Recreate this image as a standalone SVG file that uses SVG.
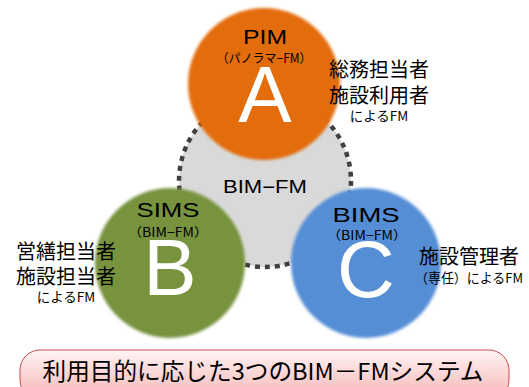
<svg xmlns="http://www.w3.org/2000/svg" width="529" height="387" viewBox="0 0 529 387">
<defs>
<filter id="soft" x="-10%" y="-10%" width="120%" height="120%"><feGaussianBlur stdDeviation="1.6"/></filter>
<linearGradient id="pink" x1="0" y1="0" x2="0" y2="1"><stop offset="0" stop-color="#fff4f4"/><stop offset="1" stop-color="#f6b4b4"/></linearGradient>
<style>
text{font-family:"Liberation Sans","Noto Sans CJK JP",sans-serif;fill:#000;text-anchor:middle}
.jp{font-family:"Noto Sans CJK JP",sans-serif}
.big{fill:#fff;font-size:80px}
.ttl{font-size:21px}
.sub{font-size:12.5px}
.lbl{font-size:20px}
.sm{font-size:13.5px}
</style>
</defs>
<rect width="529" height="387" fill="#fff"/>
<g id="core">
<circle cx="265" cy="181" r="86" fill="#d9d9d9" stroke="#404040" stroke-width="4.5" stroke-dasharray="5 5"/>
<text x="265" y="193" font-size="18" textLength="84" lengthAdjust="spacingAndGlyphs">BIM−FM</text>
</g>
<g id="connectors"/>
<g id="nodeA">
<circle cx="264" cy="84" r="76" fill="#e36c0a" filter="url(#soft)"/>
<text class="ttl" x="265" y="44" textLength="44" lengthAdjust="spacingAndGlyphs">PIM</text>
<text class="sub jp" x="264" y="63" textLength="95" lengthAdjust="spacingAndGlyphs">（パノラマ−FM）</text>
<text class="big" x="265" y="122">A</text>
</g>
<g id="nodeB">
<circle cx="170" cy="263" r="75" fill="#77933c" filter="url(#soft)"/>
<text class="ttl" x="168" y="217" textLength="63" lengthAdjust="spacingAndGlyphs">SIMS</text>
<text class="sub jp" x="168" y="237" textLength="80" lengthAdjust="spacingAndGlyphs">（BIM−FM）</text>
<text class="big" x="170" y="295">B</text>
</g>
<g id="nodeC">
<circle cx="366" cy="263" r="75" fill="#558ed5" filter="url(#soft)"/>
<text class="ttl" x="366" y="222" textLength="67" lengthAdjust="spacingAndGlyphs">BIMS</text>
<text class="sub jp" x="367" y="240" textLength="80" lengthAdjust="spacingAndGlyphs">（BIM−FM）</text>
<text class="big" x="366" y="297">C</text>
</g>
<g id="labelA">
<text class="lbl jp" x="379" y="77">総務担当者</text>
<text class="lbl jp" x="379" y="103">施設利用者</text>
<text class="sm jp" x="379" y="121">によるFM</text>
</g>
<g id="labelB">
<text class="lbl jp" x="66" y="259">営繕担当者</text>
<text class="lbl jp" x="66" y="284">施設担当者</text>
<text class="sm jp" x="66" y="302">によるFM</text>
</g>
<g id="labelC">
<text class="lbl jp" x="469" y="264">施設管理者</text>
<text class="sm jp" x="469" y="283" textLength="108" lengthAdjust="spacingAndGlyphs">（専任）によるFM</text>
</g>
<g id="title">
<rect x="20" y="350" width="489" height="50" rx="20" fill="url(#pink)" stroke="#c0504d" stroke-width="1"/>
<text class="jp" x="263" y="380" font-size="23.5" textLength="441" lengthAdjust="spacingAndGlyphs">利用目的に応じた3つのBIM－FMシステム</text>
</g>
</svg>
